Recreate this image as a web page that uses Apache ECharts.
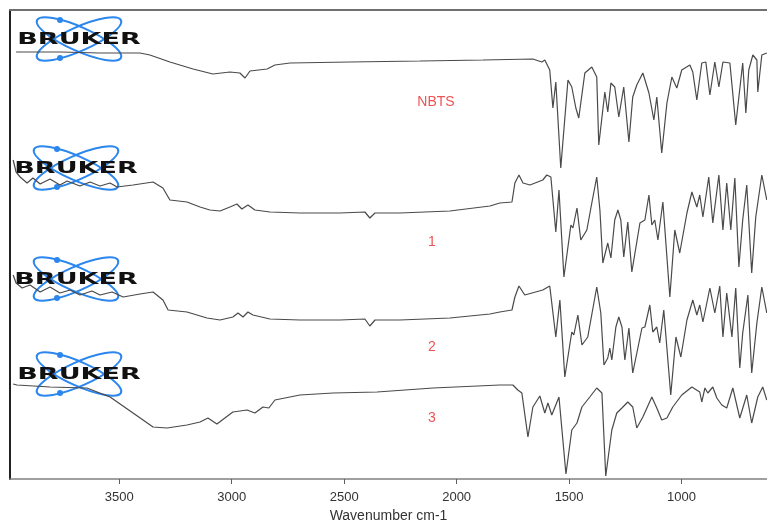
<!DOCTYPE html>
<html>
<head>
<meta charset="utf-8">
<script src="https://cdn.jsdelivr.net/npm/echarts@6/dist/echarts.min.js"></script>
<style>
html,body{margin:0;padding:0;background:#fff;}
#ir{width:767px;height:522px;}
</style>
</head>
<body>
<div id="ir"></div>
<script>
// wavenumber (cm-1), offset transmittance (arbitrary units, traces stacked)
var nbts = [[3959,427],[3764,427],[3586,426],[3408,426],[3364,424],[3275,417],[3172,410],[3084,405],[3008,407],[2964,406],[2941,401],[2919,408],[2843,410],[2808,414],[2741,416],[2475,417],[2163,418],[1883,419],[1661,420],[1621,417],[1608,419],[1586,409],[1572,371],[1559,397],[1537,311],[1505,399],[1488,392],[1470,371],[1457,361],[1430,406],[1399,412],[1377,402],[1368,334],[1341,387],[1328,367],[1314,396],[1297,392],[1279,362],[1257,392],[1234,337],[1217,382],[1199,394],[1172,406],[1145,386],[1123,359],[1110,382],[1088,326],[1065,376],[1043,402],[1021,391],[999,409],[963,414],[950,407],[932,379],[910,416],[892,417],[874,384],[852,417],[834,392],[816,417],[785,416],[759,354],[728,416],[714,366],[701,409],[683,424],[665,419],[661,387],[643,424],[621,426]];

var s1 = [[3972,319],[3959,307],[3941,302],[3910,296],[3884,301],[3852,295],[3808,300],[3764,294],[3732,298],[3675,293],[3630,297],[3586,293],[3541,296],[3510,292],[3439,294],[3350,297],[3306,291],[3275,279],[3199,277],[3141,272],[3097,269],[3052,268],[3008,272],[2977,275],[2955,270],[2928,274],[2897,269],[2830,267],[2697,266],[2519,266],[2408,267],[2386,261],[2363,266],[2252,266],[2030,268],[1852,273],[1808,276],[1754,277],[1741,296],[1723,304],[1705,296],[1674,294],[1617,299],[1599,304],[1581,302],[1559,247],[1545,289],[1523,202],[1492,254],[1483,251],[1465,271],[1448,239],[1421,249],[1399,276],[1377,302],[1363,269],[1350,216],[1328,236],[1314,221],[1297,259],[1283,269],[1270,259],[1257,222],[1239,257],[1221,207],[1185,256],[1163,259],[1145,284],[1132,254],[1119,259],[1105,239],[1083,277],[1052,182],[1030,249],[1008,226],[976,266],[954,287],[932,272],[919,284],[905,262],[879,302],[861,256],[834,304],[816,249],[799,296],[781,249],[763,301],[745,212],[728,259],[710,294],[688,206],[670,262],[643,304],[621,279]];

var s2 = [[3972,204],[3959,196],[3932,191],[3897,194],[3852,187],[3808,192],[3764,186],[3719,189],[3675,184],[3621,188],[3586,184],[3532,187],[3483,182],[3408,185],[3350,187],[3306,179],[3283,169],[3199,167],[3110,161],[3052,159],[2995,162],[2972,166],[2950,162],[2928,167],[2906,164],[2830,160],[2697,159],[2519,159],[2408,160],[2386,153],[2363,159],[2252,159],[2030,161],[1852,165],[1808,167],[1754,169],[1741,182],[1723,193],[1697,184],[1617,189],[1586,193],[1559,142],[1541,179],[1519,102],[1488,147],[1479,144],[1461,164],[1443,134],[1417,142],[1377,192],[1359,166],[1345,114],[1328,121],[1319,131],[1310,119],[1292,152],[1279,162],[1265,152],[1252,119],[1234,151],[1217,106],[1176,151],[1163,152],[1141,174],[1128,147],[1110,152],[1097,136],[1079,169],[1048,84],[1025,142],[1003,122],[976,159],[950,179],[932,164],[919,174],[905,157],[874,191],[852,166],[830,193],[816,142],[799,186],[776,142],[759,191],[741,111],[728,146],[705,184],[688,106],[665,156],[643,192],[621,166]];

var s3 = [[3972,95],[3955,94],[3808,92],[3644,91],[3541,82],[3439,66],[3350,52],[3288,51],[3199,54],[3141,57],[3106,61],[3066,55],[2995,67],[2932,69],[2897,66],[2861,72],[2835,71],[2808,79],[2697,84],[2550,86],[2354,87],[2105,91],[1808,94],[1750,94],[1728,89],[1710,86],[1683,42],[1661,72],[1630,83],[1608,66],[1594,76],[1577,64],[1545,82],[1514,5],[1488,49],[1465,56],[1443,72],[1408,82],[1377,91],[1354,86],[1337,3],[1310,49],[1288,66],[1265,71],[1239,77],[1217,72],[1199,51],[1172,62],[1132,82],[1110,71],[1088,59],[1065,61],[1039,72],[999,84],[954,92],[919,87],[910,77],[896,91],[883,86],[861,92],[843,81],[821,74],[799,71],[772,91],[741,61],[710,84],[688,56],[661,82],[639,92],[621,79]];

var traceNames = ['NBTS', '1', '2', '3'];
var labelPos = [[2092,377],[2110,237],[2110,132],[2110,61]];
var tickValues = [1000, 1500, 2000, 2500, 3000, 3500];

// bruker logo (decoration) centres, pixels
var logoCentres = [[79,39],[76,168],[76,279],[79,374]];

function logo(c) {
  var cx = c[0], cy = c[1];
  var blue = '#2b86ee';
  return {
    type: 'group',
    children: [
      {type: 'ellipse', shape: {cx: cx, cy: cy, rx: 46, ry: 12}, rotation: 0.42, originX: cx, originY: cy,
        style: {fill: 'none', stroke: blue, lineWidth: 2}},
      {type: 'ellipse', shape: {cx: cx, cy: cy, rx: 46, ry: 12}, rotation: -0.42, originX: cx, originY: cy,
        style: {fill: 'none', stroke: blue, lineWidth: 2}},
      {type: 'circle', shape: {cx: cx - 19, cy: cy - 19, r: 3}, style: {fill: blue}},
      {type: 'circle', shape: {cx: cx - 19, cy: cy + 19, r: 3}, style: {fill: blue}},
      {type: 'text', x: cx, y: cy + 1, scaleX: 1.8, originX: 0, originY: 0,
        style: {text: 'BRUKER', fill: '#111', font: '900 15px "DejaVu Sans"', align: 'center', verticalAlign: 'middle'}}
    ]
  };
}

var chart = echarts.init(document.getElementById('ir'));
var lineStyle = {color: '#4a4a4a', width: 1.2};
var series = [nbts, s1, s2, s3].map(function (d, i) {
  return {
    name: traceNames[i], type: 'line', data: d, symbol: 'none',
    lineStyle: lineStyle, silent: true, z: 2
  };
});
series.push({
  type: 'scatter', symbolSize: 0, silent: true,
  data: labelPos.map(function (p, i) { return {value: p, name: traceNames[i]}; }),
  label: {show: true, position: 'inside', formatter: '{b}', color: '#e8282b',
    fontSize: 14, fontFamily: 'Liberation Sans'}
});

chart.setOption({
  animation: false,
  grid: {left: 10, top: 10, right: 0, bottom: 43, outerBoundsMode: 'none', containLabel: false},
  xAxis: [{
    type: 'value', inverse: true, min: 620, max: 3986,
    axisLine: {lineStyle: {color: '#808080', width: 1.5}},
    axisTick: {show: true, length: 5, customValues: tickValues, lineStyle: {color: '#606060'}},
    axisLabel: {customValues: tickValues, color: '#333', fontSize: 13, margin: 12, fontFamily: 'Liberation Sans',
      formatter: function (v) { return String(v); }},
    splitLine: {show: false},
    name: 'Wavenumber cm-1', nameLocation: 'middle', nameGap: 30,
    nameTextStyle: {color: '#333', fontSize: 14, fontFamily: 'Liberation Sans'}
  }, {
    type: 'value', position: 'top', inverse: true, min: 620, max: 3986,
    axisLine: {show: true, onZero: false, lineStyle: {color: '#707070', width: 2}},
    axisTick: {show: false}, axisLabel: {show: false}, splitLine: {show: false}
  }],
  yAxis: {
    type: 'value', min: 0, max: 469,
    axisLine: {show: true, lineStyle: {color: '#222', width: 2}},
    axisTick: {show: false}, axisLabel: {show: false}, splitLine: {show: false}
  },
  series: series,
  graphic: logoCentres.map(logo)
});
</script>
</body>
</html>
